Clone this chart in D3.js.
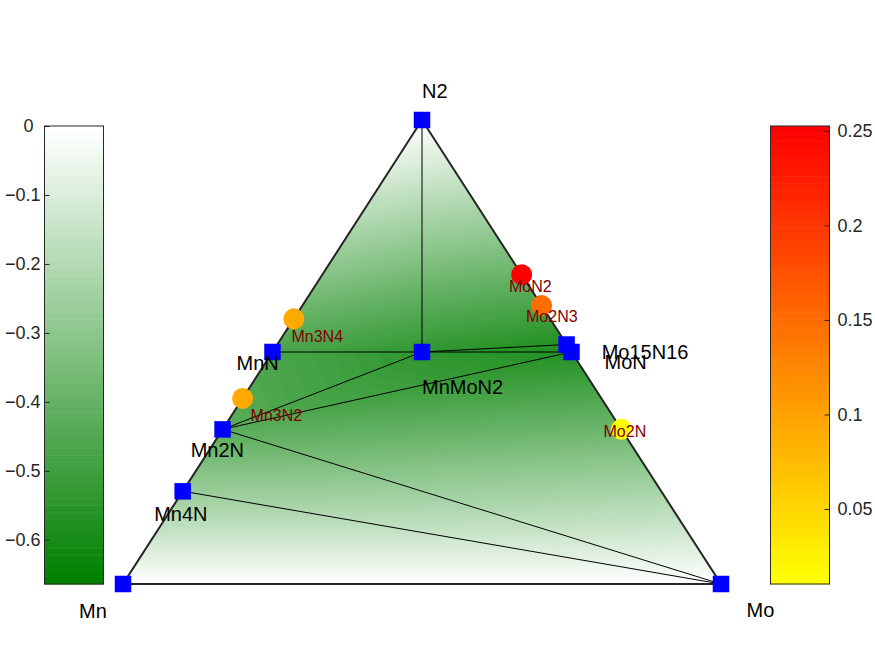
<!DOCTYPE html>
<html><head><meta charset="utf-8">
<script src="https://cdn.jsdelivr.net/npm/d3@7"></script>
<style>
body{margin:0;background:#fff}
text{font-family:"Liberation Sans",Arial,Helvetica,sans-serif}
</style>
</head><body>
<svg id="chart" width="875" height="656"></svg>
<script>
// ---------------- data ----------------
const stableNames   = ["Mn", "Mo", "N2", "MnN", "Mn2N", "Mn4N", "MnMoN2", "MoN", "Mo15N16"];
const stableMn      = [1, 0, 0, 0.5, 2/3, 0.8, 0.25, 0, 0];
const stableMo      = [0, 1, 0, 0, 0, 0, 0.25, 0.5, 15/31];
const stableN       = [0, 0, 1, 0.5, 1/3, 0.2, 0.5, 0.5, 16/31];
const stableEnergy  = [0, 0, 0, -0.47, -0.43, -0.27, -0.54, -0.57, -0.57];

const facets = [
  ["N2", "MnN", "MnMoN2"],
  ["N2", "MnMoN2", "Mo15N16"],
  ["MnMoN2", "Mo15N16", "MoN"],
  ["MnN", "Mn2N", "MnMoN2"],
  ["Mn2N", "MnMoN2", "MoN"],
  ["Mn2N", "MoN", "Mo"],
  ["Mn2N", "Mn4N", "Mo"],
  ["Mn4N", "Mn", "Mo"]
];

const unstableNames = ["Mn3N4", "Mn3N2", "MoN2", "Mo2N3", "Mo2N"];
const unstableMn    = [3/7, 0.6, 0, 0, 0];
const unstableMo    = [0, 0, 1/3, 0.4, 2/3];
const unstableN     = [4/7, 0.4, 2/3, 0.6, 1/3];
const unstableEhull = [0.091, 0.093, 0.2526, 0.148, 0.0103];

const energyRange = [-0.664, 0];
const hullRange   = [0.0103, 0.2526];
const energyTicks = [0, -0.1, -0.2, -0.3, -0.4, -0.5, -0.6];
const hullTicks   = [0.05, 0.1, 0.15, 0.2, 0.25];

// ---------------- layout / style ----------------
const W = 875, H = 656;
const labelOffset = {
  "N2": [0, -22], "Mn": [-44, 34], "Mo": [25.5, 33],
  "MnN": [-36, 18], "Mn2N": [-32, 27.7], "Mn4N": [-28.6, 29.8],
  "MnMoN2": [0, 42], "Mo15N16": [35, 14.5], "MoN": [33, 17],
  "Mn3N4": [-2.4, 23], "Mn3N2": [8, 22.6], "MoN2": [-12.7, 17.3],
  "Mo2N3": [-15.6, 16.4], "Mo2N": [-17.8, 7.7]
};

const svg = d3.select("#chart");
svg.append("rect").attr("width", W).attr("height", H).attr("fill", "#fff");

// ternary -> cartesian scales
const tx = d3.scaleLinear().domain([0, 1]).range([123, 721]);
const ty = d3.scaleLinear().domain([0, 1]).range([584, 120]);
const px = (mo, n) => tx(mo + n / 2);
const py = (n) => ty(n);

// colormaps (64 levels, like MATLAB)
const NC = 64;
const greenColors = d3.range(NC).map(i => d3.interpolateRgb("rgb(0,128,0)", "rgb(255,255,255)")(i / (NC - 1)));
const hotColors   = d3.range(NC).map(i => d3.interpolateRgb("rgb(255,255,0)", "rgb(255,0,0)")(i / (NC - 1)));
const greenScale = d3.scaleQuantize().domain(energyRange).range(greenColors);
const hotScale   = d3.scaleQuantize().domain(hullRange).range(hotColors);

const stable = stableNames.map((name, i) => ({
  name, x: px(stableMo[i], stableN[i]), y: py(stableN[i]), e: stableEnergy[i]
}));
const byName = Object.fromEntries(stable.map(d => [d.name, d]));
const unstable = unstableNames.map((name, i) => ({
  name, x: px(unstableMo[i], unstableN[i]), y: py(unstableN[i]), e: unstableEhull[i]
}));

// ---------------- interpolated hull surface (canvas raster) ----------------
const canvas = document.createElement("canvas");
canvas.width = W; canvas.height = H;
const ctx = canvas.getContext("2d");
const img = ctx.createImageData(W, H);
const rgbCache = greenColors.map(c => d3.rgb(c));
const greenIdx = d3.scaleQuantize().domain(energyRange).range(d3.range(NC));
facets.forEach(f => {
  const [a, b, c] = f.map(n => byName[n]);
  const det = (b.y - c.y) * (a.x - c.x) + (c.x - b.x) * (a.y - c.y);
  const x0 = Math.floor(Math.min(a.x, b.x, c.x)), x1 = Math.ceil(Math.max(a.x, b.x, c.x));
  const y0 = Math.floor(Math.min(a.y, b.y, c.y)), y1 = Math.ceil(Math.max(a.y, b.y, c.y));
  const eps = 1e-4;
  for (let yy = y0; yy <= y1; yy++) {
    for (let xx = x0; xx <= x1; xx++) {
      const X = xx + 0.5, Y = yy + 0.5;
      const l1 = ((b.y - c.y) * (X - c.x) + (c.x - b.x) * (Y - c.y)) / det;
      const l2 = ((c.y - a.y) * (X - c.x) + (a.x - c.x) * (Y - c.y)) / det;
      const l3 = 1 - l1 - l2;
      if (l1 < -eps || l2 < -eps || l3 < -eps) continue;
      const e = l1 * a.e + l2 * b.e + l3 * c.e;
      const col = rgbCache[greenIdx(e)];
      const k = (yy * W + xx) * 4;
      img.data[k] = col.r; img.data[k + 1] = col.g; img.data[k + 2] = col.b; img.data[k + 3] = 255;
    }
  }
});
ctx.putImageData(img, 0, 0);
svg.append("image").attr("x", 0).attr("y", 0).attr("width", W).attr("height", H)
  .attr("href", canvas.toDataURL());

// ---------------- tie lines ----------------
const edgeSet = new Map();
facets.forEach(f => {
  for (let i = 0; i < 3; i++) {
    const p = [f[i], f[(i + 1) % 3]].sort();
    edgeSet.set(p.join("|"), p);
  }
});
svg.append("g").selectAll("line").data([...edgeSet.values()]).join("line")
  .attr("x1", d => byName[d[0]].x).attr("y1", d => byName[d[0]].y)
  .attr("x2", d => byName[d[1]].x).attr("y2", d => byName[d[1]].y)
  .attr("stroke", "#000").attr("stroke-width", 1);

// triangle outline
const corners = ["Mn", "Mo", "N2"].map(n => byName[n]);
svg.append("polygon")
  .attr("points", corners.map(d => d.x + "," + d.y).join(" "))
  .attr("fill", "none").attr("stroke", "#262626").attr("stroke-width", 2)
  .attr("stroke-linejoin", "miter");

// stable markers
svg.append("g").selectAll("rect").data(stable).join("rect")
  .attr("x", d => d.x - 8).attr("y", d => d.y - 8)
  .attr("width", 16).attr("height", 16)
  .attr("fill", "#0000ff").attr("stroke", "#0000ff").attr("stroke-width", 0.5);

// unstable markers
svg.append("g").selectAll("circle").data(unstable).join("circle")
  .attr("cx", d => d.x).attr("cy", d => d.y).attr("r", 10.5)
  .attr("fill", d => hotScale(d.e));

// labels
svg.append("g").selectAll("text").data(stable).join("text")
  .attr("x", d => d.x + labelOffset[d.name][0])
  .attr("y", d => d.y + labelOffset[d.name][1])
  .attr("font-size", 20).attr("fill", "#000").text(d => d.name);
svg.append("g").selectAll("text").data(unstable).join("text")
  .attr("x", d => d.x + labelOffset[d.name][0])
  .attr("y", d => d.y + labelOffset[d.name][1])
  .attr("font-size", 16).attr("fill", "#800000").text(d => d.name);

// ---------------- colorbars ----------------
const fmt = d3.format("");
function colorbar(x0, x1, domain, colors, ticks, side) {
  const ys = d3.scaleLinear().domain(domain).range([584, 126]);
  const step = (domain[1] - domain[0]) / colors.length;
  const g = svg.append("g");
  g.selectAll("rect.band").data(colors).join("rect").attr("class", "band")
    .attr("x", x0).attr("width", x1 - x0)
    .attr("y", (c, i) => ys(domain[0] + (i + 1) * step))
    .attr("height", (c, i) => ys(domain[0] + i * step) - ys(domain[0] + (i + 1) * step) + 0.5)
    .attr("fill", c => c);
  g.append("rect").attr("x", x0).attr("y", 126).attr("width", x1 - x0).attr("height", 458)
    .attr("fill", "none").attr("stroke", "#262626").attr("stroke-width", 1);
  const axis = (side === "left" ? d3.axisLeft(ys) : d3.axisRight(ys))
    .tickValues(ticks).tickFormat(fmt).tickSizeInner(-5).tickSizeOuter(0).tickPadding(side === "left" ? 4 : 8);
  const ag = svg.append("g")
    .attr("transform", `translate(${side === "left" ? x0 : x1},0)`)
    .call(axis);
  ag.select(".domain").remove();
  ag.selectAll(".tick line").attr("stroke", "#262626");
  ag.selectAll(".tick text").attr("fill", "#262626")
    .attr("font-size", 18).attr("font-family", '"Liberation Sans",Arial,sans-serif');
  if (side === "left") {
    ag.selectAll(".tick text").filter(d => d === 0).attr("dx", -7);
  }
}
colorbar(44.5, 103.5, energyRange, greenColors, energyTicks, "left");
colorbar(770.5, 829.5, hullRange, hotColors, hullTicks, "right");
</script>
</body></html>
